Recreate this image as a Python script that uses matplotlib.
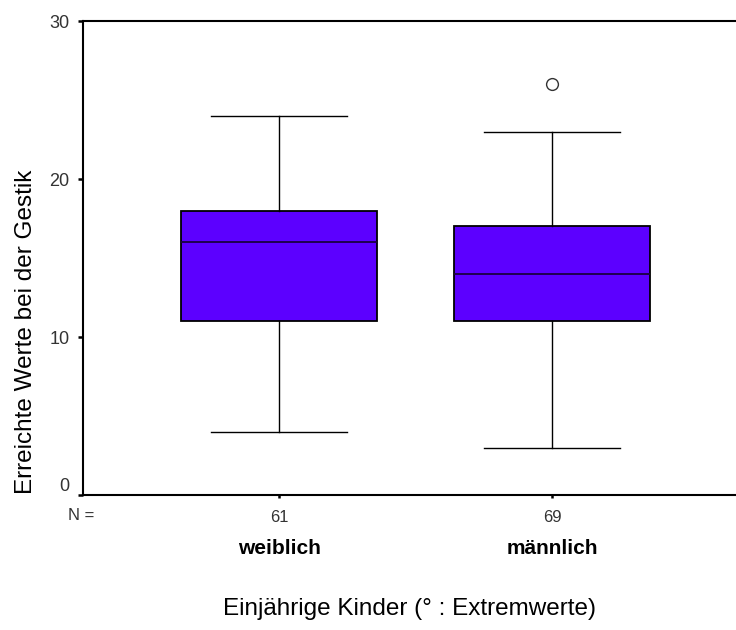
import matplotlib
matplotlib.use("Agg")
from matplotlib import pyplot as plt

plt.rcParams["font.family"] = ["Liberation Sans", "DejaVu Sans"]

groups = ["weiblich", "männlich"]
n_counts = [61, 69]
medians = [16, 14]
q1s = [11, 11]
q3s = [18, 17]
whis_lo = [4, 3]
whis_hi = [24, 23]
outliers = [[], [26]]


def main():
    fig = plt.figure(figsize=(7.36, 6.30), dpi=100)
    ax = fig.add_axes([83 / 736, 1 - 495 / 630, 1 - 83 / 736, (495 - 21) / 630])

    stats = []
    for i, g in enumerate(groups):
        stats.append(dict(label=g, med=medians[i], q1=q1s[i], q3=q3s[i],
                          whislo=whis_lo[i], whishi=whis_hi[i],
                          fliers=outliers[i]))
    pos = [1, 2]
    ax.bxp(stats, positions=pos, widths=0.715, capwidths=0.5,
           patch_artist=True,
           boxprops=dict(facecolor="#5C00FF", edgecolor="black", linewidth=1.3),
           medianprops=dict(color="#1a0040", linewidth=1.3),
           whiskerprops=dict(color="black", linewidth=1.0),
           capprops=dict(color="black", linewidth=1.0),
           flierprops=dict(marker="o", markerfacecolor="none",
                           markeredgecolor="#333333", markersize=8.5,
                           markeredgewidth=1.0))

    ax.set_xlim(0.282, 2.674)
    ax.set_ylim(0, 30)
    ax.set_yticks([0, 10, 20, 30])
    ax.set_xticks(pos)
    ax.set_xticklabels([str(n) for n in n_counts])
    ax.tick_params(axis="y", direction="out", length=3.6, width=1.8,
                   pad=6, labelsize=13, labelcolor="#333333")
    ax.tick_params(axis="x", direction="out", length=2.5, width=1.8,
                   pad=8, labelsize=12, labelcolor="#333333")
    ax.get_yticklabels()[0].set_verticalalignment("bottom")

    for s in ["left", "bottom", "top"]:
        ax.spines[s].set_linewidth(1.5)
    ax.spines["right"].set_visible(False)

    ax.text(-0.003, -0.043, "N =", transform=ax.transAxes, ha="center",
            va="center", fontsize=12, color="#333333")
    for p, g in zip(pos, groups):
        ax.text(p, -0.112, g, transform=ax.get_xaxis_transform(),
                ha="center", va="center", fontsize=15, fontweight="bold")

    ax.set_xlabel("Einjährige Kinder (° : Extremwerte)", fontsize=17.5)
    ax.xaxis.set_label_coords(0.5, -0.218)
    ax.set_ylabel("Erreichte Werte bei der Gestik", fontsize=17.5)
    ax.yaxis.set_label_coords(-0.071, 0.344)

    fig.savefig("out.png", dpi=100)


if __name__ == "__main__":
    main()
